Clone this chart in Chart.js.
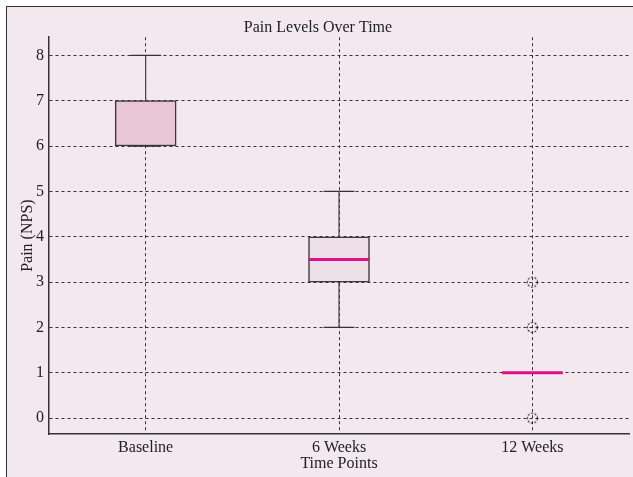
<!DOCTYPE html>
<html>
<head>
<meta charset="utf-8">
<script src="https://cdn.jsdelivr.net/npm/chart.js@4/dist/chart.umd.min.js"></script>
<style>
  body { margin: 0; background: #ffffff; }
  .frame {
    position: absolute;
    left: 6px;
    top: 6px;
    border-left: 1px solid #333;
    border-top: 1px solid #333;
    background: #f3e8ee;
  }
  canvas { display: block; }
</style>
</head>
<body>
<div class="frame">
  <canvas id="canvasID" width="626" height="470"></canvas>
</div>
<script>
// data
const categories = ['Baseline', '6 Weeks', '12 Weeks']
const q1 = [6, 3, 1]
const q3 = [7, 4, 1]
const medians = [null, 3.5, 1]
const whiskerLow = [6, 2, 1]
const whiskerHigh = [8, 5, 1]
const outliers = [[], [], [0, 2, 3]]
const yTicks = [0, 1, 2, 3, 4, 5, 6, 7, 8]

// style constants
const boxHalf = 0.157
const capHalf = 0.08
const serif = "'Liberation Serif', 'DejaVu Serif', serif"

////////////////////////////////////////////////
// build datasets from the arrays
////////////////////////////////////////////////
const boxData = categories.map((c, i) => ({ x: i, y: [q1[i], q3[i]] }))

const whiskerData = []
const capData = []
categories.forEach((c, i) => {
  whiskerData.push({ x: i, y: q3[i] }, { x: i, y: whiskerHigh[i] }, { x: i, y: null })
  whiskerData.push({ x: i, y: q1[i] }, { x: i, y: whiskerLow[i] }, { x: i, y: null })
  capData.push({ x: i - capHalf, y: whiskerHigh[i] }, { x: i + capHalf, y: whiskerHigh[i] }, { x: i, y: null })
  capData.push({ x: i - capHalf, y: whiskerLow[i] }, { x: i + capHalf, y: whiskerLow[i] }, { x: i, y: null })
})

const medianData = []
medians.forEach((m, i) => {
  if (m === null) return
  medianData.push({ x: i - boxHalf, y: m }, { x: i + boxHalf, y: m }, { x: i, y: null })
})

const outlierData = []
outliers.forEach((list, i) => {
  list.forEach((v) => outlierData.push({ x: i, y: v }))
})

// dashed circle marker for the fliers
const flier = document.createElement('canvas')
flier.width = 13
flier.height = 13
const fctx = flier.getContext('2d')
fctx.strokeStyle = '#222'
fctx.lineWidth = 1.1
fctx.setLineDash([2, 1.6])
fctx.beginPath()
fctx.arc(6.5, 6.5, 5, 0, Math.PI * 2)
fctx.stroke()

new Chart(document.getElementById('canvasID'), {
  type: 'bar',
  data: {
    datasets: [
      {
        type: 'line',
        data: medianData,
        borderColor: '#e0108a',
        borderWidth: 3,
        pointRadius: 0,
        spanGaps: false,
        order: 0,
      },
      {
        type: 'scatter',
        data: outlierData,
        pointStyle: flier,
        pointRadius: 6,
        order: 1,
      },
      {
        type: 'line',
        data: capData,
        borderColor: '#333',
        borderWidth: 1.2,
        pointRadius: 0,
        spanGaps: false,
        order: 2,
      },
      {
        type: 'line',
        data: whiskerData,
        borderColor: '#444',
        borderWidth: 1.2,
        pointRadius: 0,
        spanGaps: false,
        order: 3,
      },
      {
        type: 'bar',
        data: boxData,
        backgroundColor: ['#eac5d6', '#ede0e7', '#ede0e7'],
        borderColor: '#3a3a3a',
        borderWidth: 1.5,
        borderSkipped: false,
        barThickness: 61,
        order: 4,
      },
    ],
  },
  options: {
    responsive: false,
    animation: false,
    layout: { autoPadding: false, padding: { top: 0, right: 4, bottom: 0, left: 0 } },
    scales: {
      x: {
        type: 'linear',
        offset: false,
        min: -0.5,
        max: 2.5,
        afterBuildTicks: (scale) => {
          scale.ticks = categories.map((c, i) => ({ value: i }))
        },
        afterFit: (scale) => {
          scale.height = 43
          scale.paddingLeft = 0
          scale.paddingRight = 0
        },
        ticks: {
          callback: (v) => categories[v],
          color: '#222',
          padding: 4,
          maxRotation: 0,
          font: { family: serif, size: 16 },
        },
        grid: {
          offset: false,
          color: '#333',
          lineWidth: 1,
          drawTicks: false,
        },
        border: { display: true, color: '#333', width: 1.5, dash: [3, 3] },
        title: {
          display: true,
          text: 'Time Points',
          color: '#222',
          padding: { top: 0, bottom: 4 },
          font: { family: serif, size: 16 },
        },
      },
      y: {
        min: -0.35,
        max: 8.4,
        afterBuildTicks: (scale) => {
          scale.ticks = yTicks.map((v) => ({ value: v }))
        },
        afterFit: (scale) => {
          scale.width = 42
          scale.paddingTop = 0
          scale.paddingBottom = 0
        },
        ticks: {
          color: '#222',
          padding: 5,
          font: { family: serif, size: 16 },
        },
        grid: {
          color: '#333',
          lineWidth: 1,
          drawTicks: false,
        },
        border: { display: true, color: '#333', width: 1.5, dash: [3, 3] },
        title: {
          display: true,
          text: 'Pain (NPS)',
          color: '#222',
          padding: { top: 11, bottom: 0 },
          font: { family: serif, size: 16 },
        },
      },
    },
    plugins: {
      legend: { display: false },
      tooltip: { enabled: false },
      title: {
        display: true,
        text: 'Pain Levels Over Time',
        color: '#222',
        padding: { top: 11, bottom: 0 },
        font: { family: serif, size: 16, weight: 'normal' },
      },
    },
  },
})
</script>
</body>
</html>
